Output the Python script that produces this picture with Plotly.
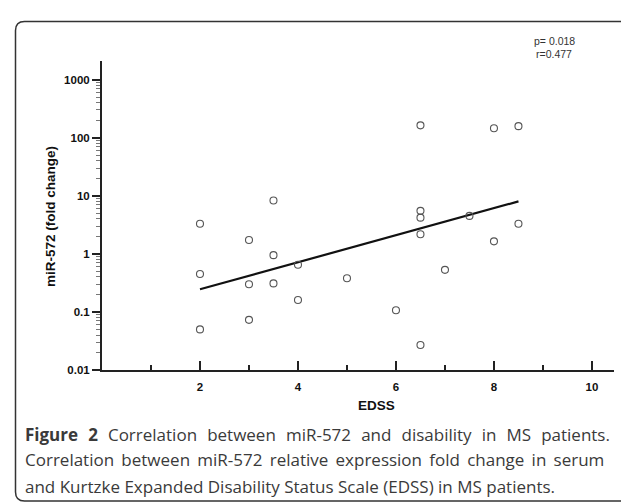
import plotly.graph_objects as go

# ---- data ----
edss = [2, 2, 2, 3, 3, 3, 3.5, 3.5, 3.5, 4, 4, 5, 6, 6.5, 6.5, 6.5, 6.5, 6.5, 7, 7.5, 8, 8, 8.5, 8.5]
fold_change = [3.3, 0.45, 0.050, 1.73, 0.30, 0.073, 8.3, 0.95, 0.31, 0.65, 0.16, 0.38, 0.107,
               163, 5.5, 4.2, 2.17, 0.027, 0.53, 4.5, 145, 1.64, 158, 3.3]
fit_x = [2, 8.5]
fit_y = [0.245, 8.0]
x_tick_vals = [2, 4, 6, 8, 10]
x_minor_vals = [1, 3, 5, 7, 9]
y_tick_vals = [0.01, 0.1, 1, 10, 100, 1000]
y_tick_text = ["0.01", "0.1", "1", "10", "100", "1000"]
stats_text = ["p= 0.018", "r=0.477"]
caption_lines = [
    "<b>Figure 2</b> Correlation between miR-572 and disability in MS patients.",
    "Correlation between miR-572 relative expression fold change in serum",
    "and Kurtzke Expanded Disability Status Scale (EDSS) in MS patients.",
]
# extra word spacing to imitate the justified caption (last line is not justified)
caption_gap = [" \u2004", " \u2009", " "]

W, H = 629, 502
L, R, T, B = 94, 23, 53, 140
PW, PH = W - L - R, H - T - B


def px(x):
    return (x - L) / PW


def py(y):
    return (H - B - y) / PH


y_minor_vals = [k * 10 ** e for e in range(-2, 3) for k in range(2, 10)]

fig = go.Figure()
fig.add_trace(go.Scatter(
    x=fit_x, y=fit_y, mode="lines",
    line=dict(color="#111111", width=2.2), showlegend=False, hoverinfo="skip"))
fig.add_trace(go.Scatter(
    x=edss, y=fold_change, mode="markers",
    marker=dict(symbol="circle-open", size=7, color="#555555", line=dict(width=1.1, color="#555555")),
    showlegend=False))

axis_font = dict(family="Liberation Sans, Arial, sans-serif", size=11.5, color="#111111", weight="bold")

fig.update_xaxes(
    range=[0, 10.45], showline=True, linecolor="#222222", linewidth=2,
    showgrid=False, zeroline=False,
    tickvals=x_tick_vals, ticks="inside", ticklen=9, tickwidth=2, tickcolor="#222222",
    tickfont=axis_font, ticklabelstandoff=5,
    minor=dict(tickvals=x_minor_vals, ticks="inside", ticklen=5, tickwidth=1.5, tickcolor="#222222"),
)
fig.update_yaxes(
    type="log", range=[-2, 3.32], showline=True, linecolor="#222222", linewidth=2,
    showgrid=False, zeroline=False,
    tickvals=y_tick_vals, ticktext=y_tick_text, ticks="outside", ticklen=8, tickwidth=2,
    tickcolor="#222222", tickfont=axis_font,
    minor=dict(tickvals=y_minor_vals, ticks="outside", ticklen=4, tickwidth=1, tickcolor="#777777"),
)

annotations = []
# axis titles
title_font = dict(family="Liberation Sans, Arial, sans-serif", size=13.5, color="#111111", weight="bold")
annotations.append(dict(text="EDSS", x=px(368), y=py(397), xref="paper", yref="paper",
                        showarrow=False, font=title_font, xanchor="center", yanchor="middle"))
annotations.append(dict(text="miR-572 (fold change)", x=px(42), y=py(209), xref="paper", yref="paper",
                        showarrow=False, font=title_font, textangle=-90, xanchor="center", yanchor="middle"))
# stats
for i, s in enumerate(stats_text):
    annotations.append(dict(text=s, x=px(546), y=py(33 + 13 * i), xref="paper", yref="paper",
                            showarrow=False, xanchor="center", yanchor="middle",
                            font=dict(family="Liberation Sans, Arial, sans-serif", size=10.5, color="#333333")))
# caption
for i, line in enumerate(caption_lines):
    annotations.append(dict(text=line.replace(" ", caption_gap[i]), x=px(14.5), y=py(426 + 26 * i),
                            xref="paper", yref="paper",
                            showarrow=False, xanchor="left", yanchor="middle", align="left",
                            font=dict(family="Open Sans, Noto Sans, sans-serif", size=17, color="#3a3a3a")))

# rounded border
x0, y0, x1, y1, r = 7.5, 13.5, 627.5, 493, 9
path = (f"M {px(x0 + r)},{py(y0)} L {px(x1 - r)},{py(y0)} Q {px(x1)},{py(y0)} {px(x1)},{py(y0 + r)} "
        f"L {px(x1)},{py(y1 - r)} Q {px(x1)},{py(y1)} {px(x1 - r)},{py(y1)} "
        f"L {px(x0 + r)},{py(y1)} Q {px(x0)},{py(y1)} {px(x0)},{py(y1 - r)} "
        f"L {px(x0)},{py(y0 + r)} Q {px(x0)},{py(y0)} {px(x0 + r)},{py(y0)} Z")

fig.update_layout(
    width=W, height=H, margin=dict(l=L, r=R, t=T, b=B),
    paper_bgcolor="white", plot_bgcolor="white",
    annotations=annotations,
    shapes=[dict(type="path", path=path, xref="paper", yref="paper",
                 line=dict(color="#333333", width=1.5), layer="below")],
)

fig.write_html("out.html")
